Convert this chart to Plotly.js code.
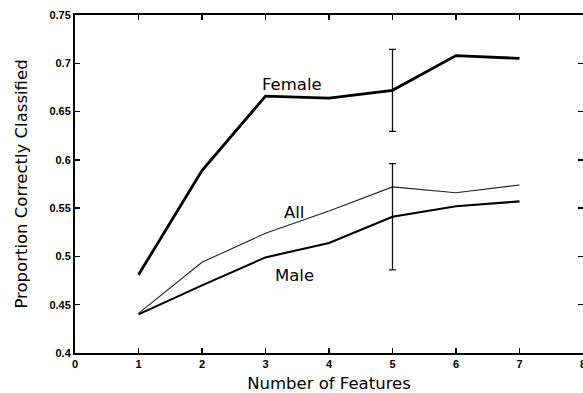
<!DOCTYPE html>
<html>
<head>
<meta charset="utf-8">
<script src="https://cdn.plot.ly/plotly-3.0.1.min.js"></script>
<style>
html,body{margin:0;padding:0;overflow:hidden;background:#fff;}
#chart{width:592px;height:393px;}
</style>
</head>
<body>
<div id="chart"></div>
<script>
// Data
var features = [1, 2, 3, 4, 5, 6, 7];
var female = [0.481, 0.589, 0.666, 0.664, 0.672, 0.708, 0.705];
var all = [0.441, 0.494, 0.524, 0.547, 0.572, 0.566, 0.574];
var male = [0.440, 0.470, 0.499, 0.514, 0.541, 0.552, 0.557];
var femaleErr = [NaN, NaN, NaN, NaN, 0.0425, NaN, NaN];
var maleErr = [NaN, NaN, NaN, NaN, 0.055, NaN, NaN];
var xTickVals = [0, 1, 2, 3, 4, 5, 6, 7, 8];
var xTickText = ['0', '1', '2', '3', '4', '5', '6', '7', '8'];
var yTickVals = [0.4, 0.45, 0.5, 0.55, 0.6, 0.65, 0.7, 0.75];
var yTickText = ['0.4', '0.45', '0.5', '0.55', '0.6', '0.65', '0.7', '0.75'];
var labelNames = ['Female', 'All', 'Male'];
var labelX = [3.42, 3.45, 3.46];
var labelY = [0.678, 0.546, 0.480];

var titleFont = {family: 'DejaVu Sans, Liberation Sans, sans-serif', size: 16.5, color: '#000'};

var traces = [
  {x: features, y: female, mode: 'lines', line: {color: '#000', width: 2.8},
   error_y: {type: 'data', array: femaleErr, visible: true, color: '#111', thickness: 1.3, width: 3.5}},
  {x: features, y: all, mode: 'lines', line: {color: '#222', width: 1.1}},
  {x: features, y: male, mode: 'lines', line: {color: '#000', width: 2.1},
   error_y: {type: 'data', array: maleErr, visible: true, color: '#111', thickness: 1.3, width: 3.5}}
];

var annotations = labelNames.map(function (t, i) {
  return {x: labelX[i], y: labelY[i], xref: 'x', yref: 'y', text: t, showarrow: false,
          font: titleFont};
});

var axisCommon = {
  showgrid: false, zeroline: false, showline: true, linecolor: '#000', linewidth: 2,
  mirror: 'ticks', ticks: 'inside', ticklen: 5, tickwidth: 1.5, tickcolor: '#000',
  ticklabeloverflow: 'allow',
  tickfont: {family: 'Liberation Sans, Arial, sans-serif', size: 11, color: '#000', weight: 'bold'}
};

var layout = {
  width: 592, height: 393,
  margin: {l: 75, r: 9, t: 15, b: 40},
  paper_bgcolor: '#fff', plot_bgcolor: '#fff',
  showlegend: false,
  xaxis: Object.assign({}, axisCommon, {
    range: [0, 8], tickmode: 'array', tickvals: xTickVals, ticktext: xTickText,
    title: {text: 'Number of Features', standoff: 9, font: titleFont}
  }),
  yaxis: Object.assign({}, axisCommon, {
    range: [0.4, 0.75], tickmode: 'array', tickvals: yTickVals, ticktext: yTickText,
    title: {text: 'Proportion Correctly Classified', standoff: 18, font: titleFont}
  }),
  annotations: annotations
};

Plotly.newPlot('chart', traces, layout, {displayModeBar: false, staticPlot: true});
</script>
</body>
</html>
